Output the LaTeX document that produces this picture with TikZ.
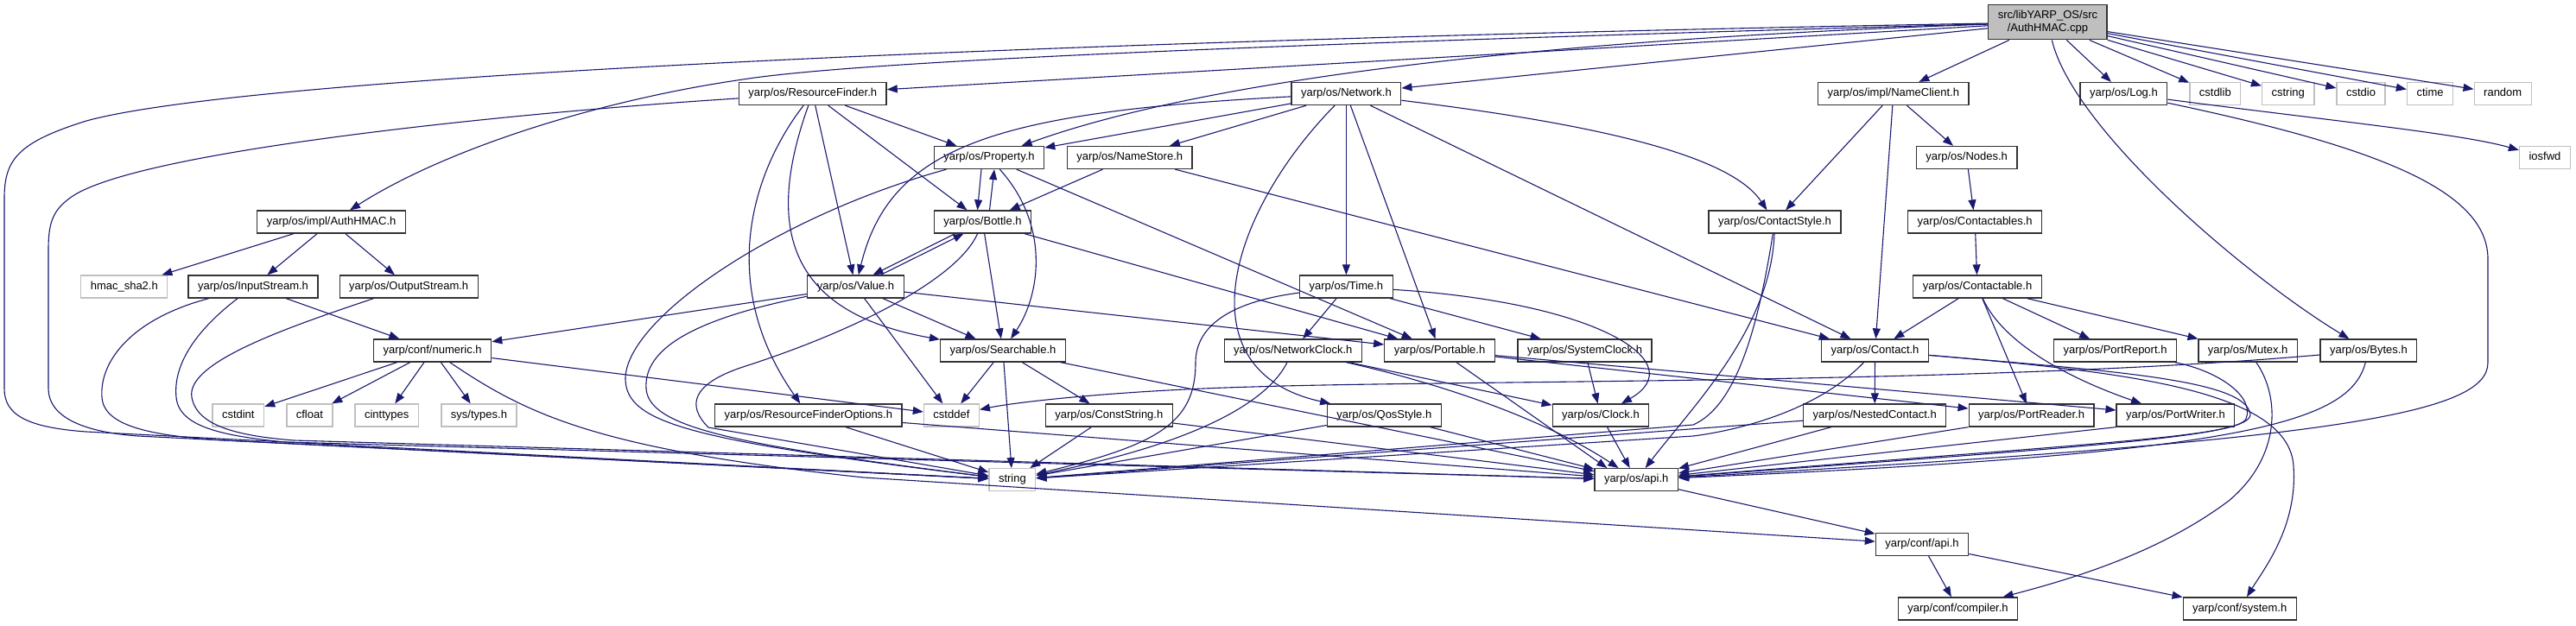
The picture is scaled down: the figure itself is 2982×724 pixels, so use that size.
\documentclass[tikz,border=0pt]{standalone}
\usepackage{fontspec}
\setmainfont{Liberation Sans}
\usetikzlibrary{arrows.meta}

\begin{document}
\begin{tikzpicture}[x=1pt, y=-1pt,
    boxBase/.style={line width=1.3pt, fill=white, font=\fontsize{13}{15}\selectfont, inner xsep=11pt, inner ysep=0pt},
    header/.style={boxBase, draw=black!80, minimum height=26pt, text height=9.5pt, text depth=3pt},
    stdHeader/.style={header, draw=black!25},
    sourceFile/.style={boxBase, draw=black!80, fill=black!25, align=center, minimum height=40pt},
    includeEdge/.style={draw=edgeColour, line width=1.1pt, -{Triangle[length=12pt,width=9pt]}}]

    % Define colours
    \definecolor{edgeColour}{HTML}{191970}

    % Fix the picture size
    \useasboundingbox (0,0) rectangle (2982,724);

    % Draw the source file
    \node[sourceFile] (root) at (2370.4,25.8) {src/libYARP\_OS/src\\/AuthHMAC.cpp};

    % Draw the headers, row by row
    \node[header] (resourceFinder) at (940.7,108.5) {yarp/os/ResourceFinder.h};
    \node[header] (network) at (1558.4,108.5) {yarp/os/Network.h};
    \node[header] (nameClient) at (2191.8,108.5) {yarp/os/impl/NameClient.h};
    \node[header] (log) at (2458.4,108.5) {yarp/os/Log.h};
    \node[stdHeader] (cstdlib) at (2564.3,108.5) {cstdlib};
    \node[stdHeader] (cstring) at (2648.7,108.5) {cstring};
    \node[stdHeader] (cstdio) at (2733,108.5) {cstdio};
    \node[stdHeader] (ctime) at (2813,108.5) {ctime};
    \node[stdHeader] (random) at (2897.2,108.5) {random};

    \node[header] (property) at (1145,182.5) {yarp/os/Property.h};
    \node[header] (nameStore) at (1307.7,182.5) {yarp/os/NameStore.h};
    \node[header] (nodes) at (2276.6,182.5) {yarp/os/Nodes.h};
    \node[stdHeader] (iosfwd) at (2946,182.5) {iosfwd};

    \node[header] (authHmac) at (383.6,257) {yarp/os/impl/AuthHMAC.h};
    \node[header] (bottle) at (1137.5,257) {yarp/os/Bottle.h};
    \node[header] (contactStyle) at (2054.5,257) {yarp/os/ContactStyle.h};
    \node[header] (contactables) at (2286.2,257) {yarp/os/Contactables.h};

    \node[stdHeader] (hmacSha) at (143.8,332) {hmac\_sha2.h};
    \node[header] (inputStream) at (293,332) {yarp/os/InputStream.h};
    \node[header] (outputStream) at (473.2,332) {yarp/os/OutputStream.h};
    \node[header] (value) at (990.5,332) {yarp/os/Value.h};
    \node[header] (time) at (1558.4,332) {yarp/os/Time.h};
    \node[header] (contactable) at (2289,332) {yarp/os/Contactable.h};

    \node[header] (numeric) at (500.6,406) {yarp/conf/numeric.h};
    \node[header] (searchable) at (1161,406) {yarp/os/Searchable.h};
    \node[header] (networkClock) at (1496.8,406) {yarp/os/NetworkClock.h};
    \node[header] (portable) at (1666.5,406) {yarp/os/Portable.h};
    \node[header] (systemClock) at (1834.5,406) {yarp/os/SystemClock.h};
    \node[header] (contact) at (2170.5,406) {yarp/os/Contact.h};
    \node[header] (portReport) at (2448.5,406) {yarp/os/PortReport.h};
    \node[header] (mutex) at (2602.2,406) {yarp/os/Mutex.h};
    \node[header] (bytes) at (2741.9,406) {yarp/os/Bytes.h};

    \node[stdHeader] (cstdint) at (275.8,481) {cstdint};
    \node[stdHeader] (cfloat) at (358.4,481) {cfloat};
    \node[stdHeader] (cinttypes) at (447.7,481) {cinttypes};
    \node[stdHeader] (sysTypes) at (554.5,481) {sys/types.h};
    \node[header] (resourceFinderOptions) at (935.9,481) {yarp/os/ResourceFinderOptions.h};
    \node[stdHeader] (cstddef) at (1101.4,481) {cstddef};
    \node[header] (constString) at (1283.8,481) {yarp/os/ConstString.h};
    \node[header] (qosStyle) at (1602.3,481) {yarp/os/QosStyle.h};
    \node[header] (clock) at (1853,481) {yarp/os/Clock.h};
    \node[header] (nestedContact) at (2170.2,481) {yarp/os/NestedContact.h};
    \node[header] (portReader) at (2351.6,481) {yarp/os/PortReader.h};
    \node[header] (portWriter) at (2518.4,481) {yarp/os/PortWriter.h};

    \node[stdHeader] (string) at (1171.9,555.7) {string};
    \node[header] (osApi) at (1894.2,555.7) {yarp/os/api.h};
    \node[header] (confApi) at (2225,630.5) {yarp/conf/api.h};
    \node[header] (compiler) at (2266.5,705) {yarp/conf/compiler.h};
    \node[header] (system) at (2592.7,705) {yarp/conf/system.h};

    % Draw the straight includes
    \foreach \from/\to in {root/resourceFinder, root/network, root/nameClient, root/log,
        root/cstdlib, root/cstring, root/cstdio, root/ctime, root/random,
        resourceFinder/property, resourceFinder/bottle, resourceFinder/value,
        network/property, network/nameStore, network/time, network/portable, network/contact,
        nameClient/contactStyle, nameClient/contact, nameClient/nodes,
        nameStore/bottle, nameStore/contact, nodes/contactables, contactables/contactable,
        authHmac/hmacSha, authHmac/inputStream, authHmac/outputStream, inputStream/numeric,
        value/numeric, value/searchable, value/portable, value/cstddef,
        bottle/searchable, bottle/portable, property/portable,
        time/networkClock, time/systemClock,
        contactable/contact, contactable/portReport, contactable/mutex, contactable/portReader,
        numeric/cstdint, numeric/cfloat, numeric/cinttypes, numeric/sysTypes, numeric/cstddef,
        searchable/cstddef, searchable/constString, searchable/string, searchable/osApi,
        networkClock/clock, systemClock/clock, contact/nestedContact,
        resourceFinderOptions/string, resourceFinderOptions/osApi,
        constString/string, constString/osApi, qosStyle/string, qosStyle/osApi,
        clock/osApi, nestedContact/string, nestedContact/osApi,
        portable/portReader, portable/portWriter,
        osApi/confApi, confApi/compiler, confApi/system}
        \draw[includeEdge] (\from) -- (\to);

    % Draw the includes that start or end off centre
    \draw[includeEdge] ([xshift=-9pt]property.south) -- ([xshift=-6pt]bottle.north);
    \draw[includeEdge] ([xshift=8pt]bottle.north) -- ([xshift=6pt]property.south);
    \draw[includeEdge] ([xshift=-32pt]bottle.south) -- ([xshift=20pt]value.north);
    \draw[includeEdge] ([xshift=29pt]value.north) -- ([xshift=-22pt]bottle.south);
    \draw[includeEdge] (portable) -- ([xshift=15pt]osApi.north west);
    \draw[includeEdge] (portReader.south west) -- (osApi);
    \draw[includeEdge] (portWriter.south west) -- (osApi);

    % Draw the curved includes from the top rows
    \draw[includeEdge] (root) .. controls (1300,45) and (300,85) .. (100,140) .. controls (20,165) and (5,185) .. (5,230)
        -- (5,450) .. controls (5,480) and (30,495) .. (100,500) -- (string);
    \draw[includeEdge] (root) .. controls (1800,45) and (1400,90) .. (property);
    \draw[includeEdge] (root) .. controls (1500,50) and (1000,70) .. (860,92) .. controls (700,115) and (520,170) .. (authHmac);
    \draw[includeEdge] (root) .. controls (2400,150) and (2600,320) .. (bytes);
    \draw[includeEdge] (resourceFinder) .. controls (600,130) and (150,175) .. (80,230) .. controls (60,245) and (56,260) .. (56,290)
        -- (56,450) .. controls (56,480) and (90,500) .. (160,505) -- (string);
    \draw[includeEdge] (resourceFinder) .. controls (870,200) and (830,330) .. (resourceFinderOptions);
    \draw[includeEdge] (resourceFinder) .. controls (890,250) and (900,360) .. (searchable);
    \draw[includeEdge] (network) .. controls (1150,130) and (1030,170) .. (value);
    \draw[includeEdge] (network) .. controls (1420,250) and (1370,430) .. (qosStyle);
    \draw[includeEdge] (network) .. controls (1900,150) and (2010,190) .. (contactStyle);
    \draw[includeEdge] (log) .. controls (2700,140) and (2850,155) .. (iosfwd);
    \draw[includeEdge] (log) .. controls (2750,170) and (2880,220) .. (2880,300) -- (2880,420)
        .. controls (2880,480) and (2700,510) .. (osApi);

    % Draw the curved includes from the middle rows
    \draw[includeEdge] (inputStream) .. controls (150,370) and (115,420) .. (118,460) .. controls (120,495) and (180,505) .. (260,510) -- (string);
    \draw[includeEdge] (inputStream) .. controls (230,380) and (200,420) .. (204,460) .. controls (207,495) and (260,505) .. (330,512) -- (osApi);
    \draw[includeEdge] (outputStream) .. controls (330,380) and (215,420) .. (222,460) .. controls (228,495) and (280,505) .. (340,510) -- (osApi);
    \draw[includeEdge] (property) .. controls (900,250) and (722,370) .. (724,440) .. controls (726,490) and (800,510) .. (string);
    \draw[includeEdge] (property) .. controls (1215,260) and (1205,340) .. (searchable);
    \draw[includeEdge] (value) .. controls (800,370) and (745,405) .. (748,450) .. controls (751,495) and (850,515) .. (string);
    \draw[includeEdge] (bottle) .. controls (1110,320) and (1000,380) .. (860,425) .. controls (800,445) and (795,470) .. (820,495) -- (string);
    \draw[includeEdge] (time) .. controls (1420,350) and (1384,380) .. (1384,420) .. controls (1384,490) and (1340,515) .. (string);
    \draw[includeEdge] (time) .. controls (1850,350) and (1960,420) .. (clock);
    \draw[includeEdge] (networkClock) .. controls (1470,460) and (1400,510) .. (string);
    \draw[includeEdge] (networkClock) .. controls (1650,440) and (1780,480) .. (osApi);
    \draw[includeEdge] (contactStyle) .. controls (2035,380) and (2010,470) .. (1960,492) -- (string);
    \draw[includeEdge] (contactStyle) .. controls (2050,380) and (1960,470) .. (osApi);
    \draw[includeEdge] (contactable) .. controls (2320,400) and (2400,440) .. (portWriter);
    \draw[includeEdge] (numeric) .. controls (610,480) and (690,520) .. (1000,553) -- (confApi);

    % Draw the curved includes from the lower rows
    \draw[includeEdge] (bytes) .. controls (2300,445) and (1700,440) .. (1450,448) .. controls (1300,452) and (1180,465) .. (cstddef);
    \draw[includeEdge] (bytes) .. controls (2720,490) and (2600,525) .. (osApi);
    \draw[includeEdge] (contact) .. controls (2100,480) and (2000,500) .. (1960,505) -- (string);
    \draw[includeEdge] (contact) .. controls (2450,430) and (2600,440) .. (2605,480) .. controls (2605,505) and (2450,515) .. (osApi);
    \draw[includeEdge] (contact) .. controls (2450,430) and (2650,450) .. (2655,540) .. controls (2660,610) and (2620,660) .. (system);
    \draw[includeEdge] (portReport) .. controls (2570,430) and (2610,460) .. (2600,485) .. controls (2590,505) and (2450,512) .. (osApi);
    \draw[includeEdge] (mutex) .. controls (2640,460) and (2640,530) .. (2580,580) .. controls (2500,640) and (2400,670) .. (compiler);

\end{tikzpicture}
\end{document}
